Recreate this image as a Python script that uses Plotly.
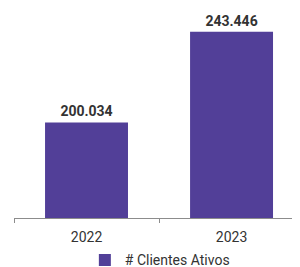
import plotly.graph_objects as go

categories = ["2022", "2023"]
clientes_ativos = [200034, 243446]
series_name = "# Clientes Ativos"

FONT = "Roboto, Liberation Sans, sans-serif"
BAR = "#523F98"

fig = go.Figure()
fig.add_trace(go.Bar(
    x=categories,
    y=clientes_ativos,
    name=series_name,
    marker=dict(color=BAR, line=dict(width=0)),
    texttemplate="<b>%{y:,}</b>",
    textposition="outside",
    cliponaxis=False,
    textfont=dict(family=FONT, size=14, color="#333333"),
    showlegend=True,
))

# page body has an 8px margin, so the figure is sized/offset to compensate
fig.update_layout(
    width=292, height=259,
    margin=dict(l=6, r=0, t=0, b=49.3, autoexpand=False),
    paper_bgcolor="white", plot_bgcolor="white",
    separators=",.",
    bargap=0.428,
    font=dict(family=FONT, size=14, color="#333333"),
    showlegend=True,
    legend=dict(orientation="h", x=0.51, xanchor="center", y=-0.2017, yanchor="middle",
                bgcolor="rgba(0,0,0,0)",
                font=dict(family=FONT, size=14, color="#333333"),
                itemwidth=30, tracegroupgap=0),
    xaxis=dict(type="category", range=[-0.5, 1.472], showline=True, linecolor="#8c8c8c",
               linewidth=1, ticks="outside", tickson="boundaries", ticklen=4,
               tickcolor="#8c8c8c", showgrid=False, zeroline=False,
               ticklabelstandoff=6,
               tickfont=dict(family=FONT, size=14, color="#333333")),
    yaxis=dict(range=[154300, 254780], visible=False, showgrid=False, zeroline=False),
)

fig.write_html("out.html")
